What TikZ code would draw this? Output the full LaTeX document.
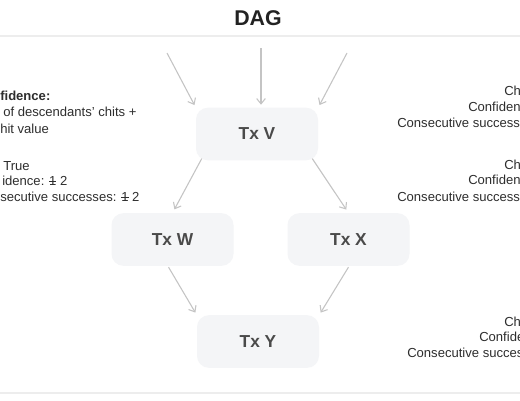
\documentclass[tikz,border=0pt]{standalone}
\usepackage{fontspec}
\setmainfont{Liberation Sans}
\usetikzlibrary{arrows.meta,calc}
\definecolor{boxfill}{HTML}{F4F5F7}
\definecolor{boxtext}{HTML}{4A4A4A}
\definecolor{arrowgray}{HTML}{C4C4C4}
\definecolor{rulegray}{HTML}{EDEDED}
\definecolor{bodytext}{HTML}{2E2E2E}
\definecolor{titletext}{HTML}{222222}
\newcommand{\strk}[1]{\ooalign{#1\cr\hidewidth\rule[0.3em]{0.55em}{0.5pt}\hidewidth\cr}}
\tikzset{
  txbox/.style={rounded corners=9pt, fill=boxfill, draw=none,
    minimum width=91.5pt, minimum height=39.5pt, inner sep=0pt,
    font=\bfseries\fontsize{13}{15}\selectfont, text=boxtext},
  link/.style={draw=arrowgray, line width=0.8pt,
    -{Straight Barb[length=4pt,width=6.5pt,line width=0.8pt]}},
  sidetext/.style={font=\fontsize{9.8}{12}\selectfont, text=bodytext, inner sep=0pt},
  sidebold/.style={sidetext, font=\bfseries\fontsize{9.8}{12}\selectfont},
  hrule/.style={draw=rulegray, line width=1.1pt}
}
\begin{document}
\begin{tikzpicture}[x=0.75pt,y=-0.75pt]
\useasboundingbox (0,0) rectangle (520,400);
\clip (0,0) rectangle (520,400);
\fill[white] (0,0) rectangle (520,400);
% title and rules
\node[font=\bfseries\fontsize{16}{18}\selectfont, text=titletext, inner sep=0pt] (title) at (258,18) {DAG};
\coordinate (rl1) at (0,36);
\coordinate (rr1) at (520,36);
\coordinate (rl2) at (0,393);
\coordinate (rr2) at (520,393);
\draw[hrule] (rl1) -- (rr1);
\draw[hrule] (rl2) -- (rr2);
% boxes
\node[txbox] (V) at (257,134) {Tx V};
\node[txbox] (W) at (172.5,239.5) {Tx W};
\node[txbox] (X) at (348.5,239.5) {Tx X};
\node[txbox] (Y) at (258,341.5) {Tx Y};
% incoming arrows
\coordinate (s1) at (167,53);
\coordinate (s2) at (261,48);
\coordinate (s3) at (347,53);
\draw[link, shorten >=2pt] (s1) -- (V.north west);
\draw[link, shorten >=2pt] (s2) -- (s2 |- V.north);
\draw[link, shorten >=2pt] (s3) -- (V.north east);
% edges
\draw[link, shorten >=3pt] ($(V.south west)+(6,-2)$) -- (W.north);
\draw[link, shorten >=3pt] ($(V.south east)+(-6,-2)$) -- (X.north);
\draw[link, shorten >=2pt] ($(W.south)+(-4,1)$) -- (Y.north west);
\draw[link, shorten >=2pt] ($(X.south)+(0,1)$) -- (Y.north east);
% left text
\node[sidebold, anchor=base west] (l1) at (0,100.5) {fidence:};
\node[sidetext, anchor=base west] (l2) at (3,116.5) {of descendants’ chits +};
\node[sidetext, anchor=base west] (l3) at (0,133) {hit value};
\node[sidetext, anchor=base west] (l4) at (3,170.5) {True};
\node[sidetext, anchor=base west] (l5) at (2,185.5) {idence: \strk{1} 2};
\node[sidetext, anchor=base west] (l6) at (0,201.5) {secutive successes: \strk{1} 2};
% right text
\node[sidetext, anchor=base west] (r1) at (504,95.5) {Ch};
\node[sidetext, anchor=base west] (r2) at (468,111.5) {Confiden};
\node[sidetext, anchor=base west] (r3) at (397,127.5) {Consecutive success};
\node[sidetext, anchor=base west] (r4) at (504,169.5) {Ch};
\node[sidetext, anchor=base west] (r5) at (468,184.5) {Confiden};
\node[sidetext, anchor=base west] (r6) at (397,201.5) {Consecutive success};
\node[sidetext, anchor=base west] (r7) at (504,326.5) {Ch};
\node[sidetext, anchor=base west] (r8) at (479,341.5) {Confide};
\node[sidetext, anchor=base west] (r9) at (407,357.5) {Consecutive succes};
\end{tikzpicture}
\end{document}
